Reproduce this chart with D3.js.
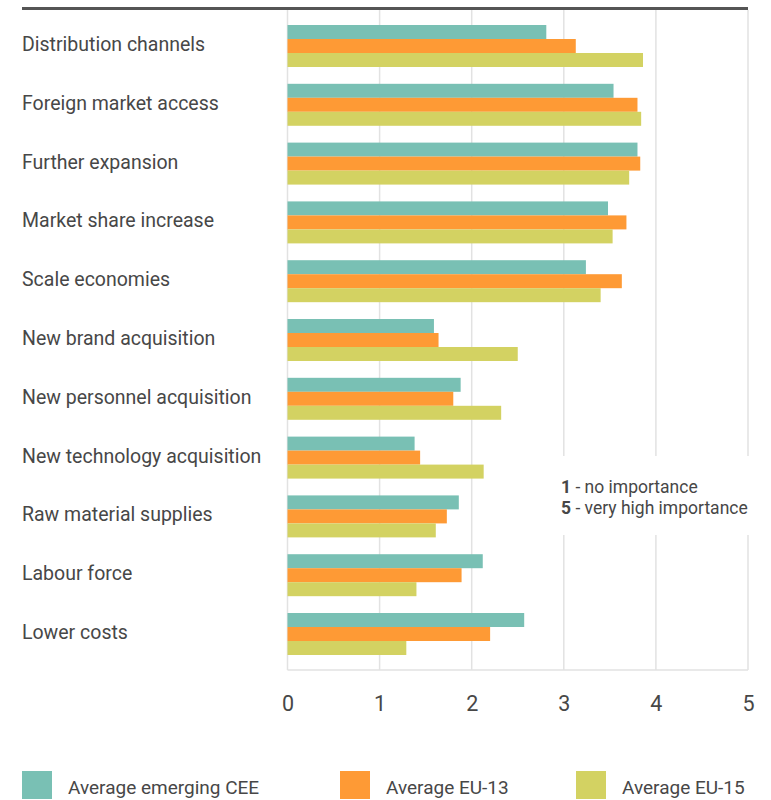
<!DOCTYPE html>
<html>
<head>
<meta charset="utf-8">
<script src="https://cdn.jsdelivr.net/npm/d3@7"></script>
<style>
  html, body { margin: 0; padding: 0; background: #fff; }
  svg text { font-family: "Liberation Sans Narrow", "Roboto", "DejaVu Sans", sans-serif; fill: #474747; }
</style>
</head>
<body>
<svg id="chart" width="771" height="800"></svg>
<script>
const categories = [
  "Distribution channels",
  "Foreign market access",
  "Further expansion",
  "Market share increase",
  "Scale economies",
  "New brand acquisition",
  "New personnel acquisition",
  "New technology acquisition",
  "Raw material supplies",
  "Labour force",
  "Lower costs"
];
const seriesNames = ["Average emerging CEE", "Average EU-13", "Average EU-15"];
const cee  = [2.81, 3.54, 3.80, 3.48, 3.24, 1.59, 1.88, 1.38, 1.86, 2.12, 2.57];
const eu13 = [3.13, 3.80, 3.83, 3.68, 3.63, 1.64, 1.80, 1.44, 1.73, 1.89, 2.20];
const eu15 = [3.86, 3.84, 3.71, 3.53, 3.40, 2.50, 2.32, 2.13, 1.61, 1.40, 1.29];
const tickValues = [0, 1, 2, 3, 4, 5];
const noteLines = [["1", " - no importance"], ["5", " - very high importance"]];
const colors = ["#79c0b4", "#fe9a35", "#d3d262"];

const seriesValues = [cee, eu13, eu15];
const svg = d3.select("#chart");

const x = d3.scaleLinear().domain([0, 5]).range([287.5, 748]);
const y = d3.scaleBand().domain(categories).range([16.6, 663.4]).paddingInner(0.286).paddingOuter(0.143);
const ys = d3.scaleBand().domain(d3.range(seriesNames.length)).range([0, y.bandwidth()]);

// top rule
svg.append("line").attr("x1", 22).attr("x2", 748).attr("y1", 8.5).attr("y2", 8.5)
  .attr("stroke", "#555").attr("stroke-width", 3);

// gridlines
svg.append("g").selectAll("line").data(tickValues).join("line")
  .attr("x1", d => x(d)).attr("x2", d => x(d))
  .attr("y1", 10).attr("y2", 670)
  .attr("stroke", "#e2e2e2").attr("stroke-width", 1.5);
svg.append("line").attr("x1", x(0)).attr("x2", x(5)).attr("y1", 670).attr("y2", 670)
  .attr("stroke", "#e2e2e2").attr("stroke-width", 1.5);

// bars
const groups = svg.append("g").selectAll("g").data(categories).join("g")
  .attr("transform", d => `translate(0,${y(d)})`);
groups.selectAll("rect").data((d, i) => seriesValues.map((s, k) => ({k, v: s[i]}))).join("rect")
  .attr("x", x(0))
  .attr("y", d => ys(d.k))
  .attr("width", d => x(d.v) - x(0))
  .attr("height", ys.bandwidth())
  .attr("fill", d => colors[d.k]);

// category labels
svg.append("g").selectAll("text").data(categories).join("text")
  .attr("x", 22).attr("y", d => y(d) + y.bandwidth() / 2 + 5)
  .attr("font-size", 19.5)
  .text(d => d);

// x axis labels
const axis = d3.axisBottom(x).tickValues(tickValues).tickSize(0).tickPadding(0).tickFormat(d3.format("d"));
const ag = svg.append("g").attr("transform", "translate(0,696)").call(axis);
ag.select(".domain").remove();
ag.selectAll("text").attr("font-size", 21.5).attr("fill", "#474747")
  .style("font-family", '"Liberation Sans Narrow", "Roboto", sans-serif');

// note box
svg.append("rect").attr("x", 553).attr("y", 456).attr("width", 205).attr("height", 79).attr("fill", "#fff");
const note = svg.append("g");
noteLines.forEach((ln, i) => {
  const t = note.append("text").attr("x", 561).attr("y", 493 + i * 20.5).attr("font-size", 17.5);
  t.append("tspan").attr("font-weight", "bold").text(ln[0]);
  t.append("tspan").text(ln[1]);
});

// legend
const legX = [22, 340, 576];
const leg = svg.append("g").selectAll("g").data(seriesNames).join("g")
  .attr("transform", (d, i) => `translate(${legX[i]},771)`);
leg.append("rect").attr("width", 30).attr("height", 28).attr("fill", (d, i) => colors[i]);
leg.append("text").attr("x", 46).attr("y", 23).attr("font-size", 19).text(d => d);
</script>
</body>
</html>
